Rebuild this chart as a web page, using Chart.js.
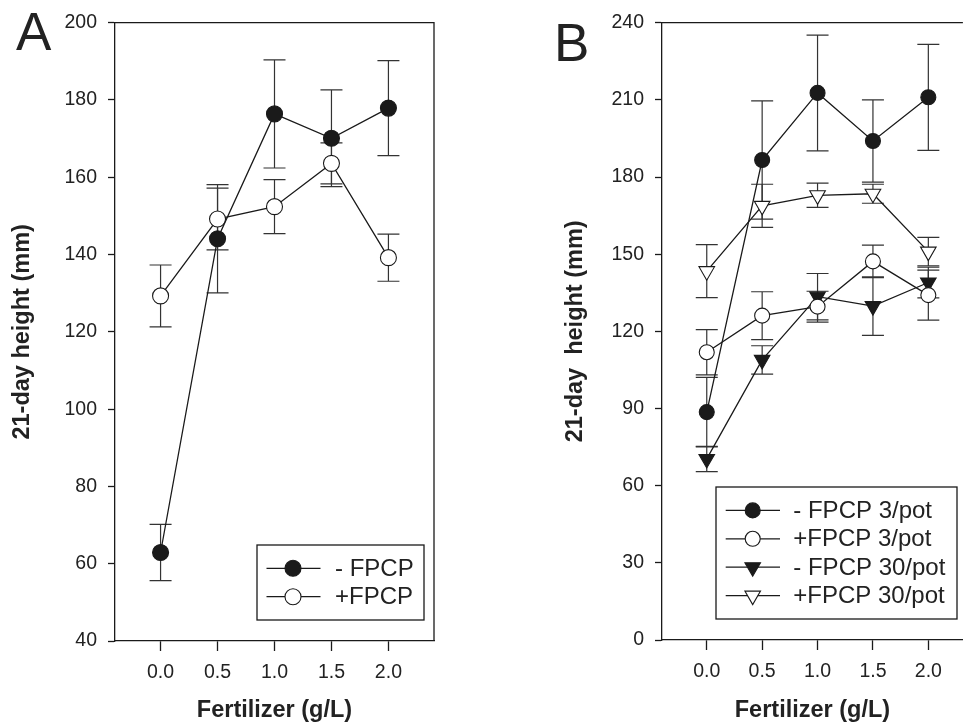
<!DOCTYPE html>
<html><head><meta charset="utf-8">
<script src="https://cdn.jsdelivr.net/npm/chart.js@4.4.0/dist/chart.umd.min.js"></script>
<style>
html,body{margin:0;padding:0;background:#fff;width:973px;height:727px;overflow:hidden;font-family:"Liberation Sans",Arial,sans-serif;}
#ca{position:absolute;left:0;top:0;}
#cb{position:absolute;left:540px;top:0;}
.lbl{position:absolute;font-size:53px;line-height:1;color:#222;font-family:"Liberation Sans",Arial,sans-serif;}
</style></head><body>
<canvas id="ca" width="460" height="727"></canvas>
<canvas id="cb" width="433" height="727"></canvas>
<div class="lbl" style="left:16px;top:5px">A</div>
<div class="lbl" style="left:554px;top:16px">B</div>
<script>
// ---- data ----
const fertilizer = [0.0, 0.5, 1.0, 1.5, 2.0];
const xTickValues = [0.0, 0.5, 1.0, 1.5, 2.0];
const yTicksA = [40, 60, 80, 100, 120, 140, 160, 180, 200];
const yTicksB = [0, 30, 60, 90, 120, 150, 180, 210, 240];

const labelsA = ['- FPCP', '+FPCP'];
const minusFPCP = [62.9, 144.1, 176.4, 170.1, 177.9];
const minusFPCPErr = [7.3, 14.0, 14.0, 12.5, 12.3];
const plusFPCP = [129.3, 149.2, 152.4, 163.6, 139.2];
const plusFPCPErr = [8.0, 8.0, 7.0, 5.3, 6.1];

const labelsB = ['- FPCP 3/pot', '+FPCP 3/pot', '- FPCP 30/pot', '+FPCP 30/pot'];
const minus3 = [88.6, 186.6, 212.7, 194.0, 211.0];
const minus3Err = [13.5, 23.0, 22.5, 16.0, 20.6];
const plus3 = [111.9, 126.1, 129.6, 147.2, 134.1];
const plus3Err = [8.8, 9.3, 6.0, 6.3, 9.7];
const minus30 = [70.4, 108.9, 133.5, 129.8, 139.0];
const minus30Err = [4.9, 5.5, 9.0, 11.4, 6.0];
const plus30 = [143.4, 168.8, 172.9, 173.5, 151.0];
const plus30Err = [10.3, 8.4, 4.7, 3.7, 5.5];

const INK = '#1a1a1a';
const TXT = '#222';
const FONT = '"Liberation Sans", Arial, sans-serif';

function pts(ys) { return fertilizer.map((x, i) => ({ x: x, y: ys[i] })); }

function ds(label, ys, errs, style, filled, radius) {
  return {
    label: label, data: pts(ys), errors: errs,
    borderColor: INK, borderWidth: 1.3, tension: 0, fill: false,
    pointStyle: style, pointRotation: style === 'triangle' ? 180 : 0,
    pointRadius: radius, pointHoverRadius: radius,
    pointBackgroundColor: filled ? INK : '#ffffff',
    pointBorderColor: INK, pointBorderWidth: 1.1,
    backgroundColor: filled ? INK : '#ffffff'
  };
}

const errorBarsPlugin = {
  id: 'errorBars',
  beforeDatasetsDraw(chart) {
    const ctx = chart.ctx, xs = chart.scales.x, ysc = chart.scales.y;
    ctx.save();
    ctx.strokeStyle = '#333';
    ctx.lineWidth = 1.2;
    chart.data.datasets.forEach(d => {
      d.data.forEach((p, i) => {
        const e = d.errors[i];
        const px = xs.getPixelForValue(p.x);
        const top = ysc.getPixelForValue(p.y + e);
        const bot = ysc.getPixelForValue(p.y - e);
        const cw = 11;
        ctx.beginPath();
        ctx.moveTo(px, top); ctx.lineTo(px, bot);
        ctx.moveTo(px - cw, top); ctx.lineTo(px + cw, top);
        ctx.moveTo(px - cw, bot); ctx.lineTo(px + cw, bot);
        ctx.stroke();
      });
    });
    ctx.restore();
  }
};

const framePlugin = {
  id: 'frame',
  afterDraw(chart) {
    const o = chart.options.plugins.frame || {};
    const a = chart.chartArea, ctx = chart.ctx;
    ctx.save();
    ctx.strokeStyle = INK; ctx.lineWidth = 1.3;
    ctx.beginPath();
    ctx.moveTo(a.left, a.top); ctx.lineTo(a.right, a.top);
    if (o.right) { ctx.lineTo(a.right, a.bottom); }
    ctx.stroke();
    ctx.restore();
  }
};

const boxLegendPlugin = {
  id: 'boxLegend',
  afterDraw(chart) {
    const o = chart.options.plugins.boxLegend;
    const ctx = chart.ctx;
    ctx.save();
    ctx.fillStyle = '#fff';
    ctx.fillRect(o.x, o.y, o.w, o.h);
    ctx.strokeStyle = INK; ctx.lineWidth = 1.3;
    ctx.strokeRect(o.x, o.y, o.w, o.h);
    ctx.font = o.fontSize + 'px ' + FONT;
    ctx.textBaseline = 'middle';
    ctx.textAlign = 'left';
    chart.data.datasets.forEach((d, i) => {
      const cy = o.y + o.first + i * o.step;
      ctx.strokeStyle = INK; ctx.lineWidth = 1.3;
      ctx.beginPath();
      ctx.moveTo(o.x + o.lineStart, cy); ctx.lineTo(o.x + o.lineEnd, cy);
      ctx.stroke();
      ctx.fillStyle = d.pointBackgroundColor;
      ctx.strokeStyle = INK; ctx.lineWidth = 1.1;
      Chart.helpers.drawPoint(ctx, {
        pointStyle: d.pointStyle, rotation: d.pointRotation,
        radius: d.pointRadius, borderWidth: 1.1
      }, o.x + o.marker, cy);
      ctx.fillStyle = TXT;
      ctx.fillText(d.label, o.x + o.text, cy + 1);
    });
    ctx.restore();
  }
};

function makeOptions(cfg) {
  return {
    responsive: false, animation: false,
    layout: { padding: cfg.padding },
    plugins: {
      legend: { display: false }, tooltip: { enabled: false },
      frame: { right: cfg.frameRight },
      boxLegend: cfg.legend
    },
    scales: {
      x: {
        type: 'linear', position: 'bottom', min: cfg.xmin, max: cfg.xmax,
        afterBuildTicks: s => { s.ticks = xTickValues.map(v => ({ value: v })); },
        afterFit: s => { s.height = cfg.xHeight; },
        grid: { drawOnChartArea: false, drawTicks: true, tickLength: 10, tickColor: INK, tickWidth: 1.3 },
        border: { display: true, color: INK, width: 1.3 },
        ticks: { color: TXT, padding: 10, font: { family: FONT, size: 19.5 },
                 callback: v => Number(v).toFixed(1) },
        title: { display: true, text: 'Fertilizer (g/L)', color: TXT,
                 font: { family: FONT, size: 23.5, weight: 'bold' },
                 padding: { top: 0, bottom: 2 } }
      },
      y: {
        type: 'linear', position: 'left', min: cfg.ymin, max: cfg.ymax,
        afterBuildTicks: s => { s.ticks = cfg.yTicks.map(v => ({ value: v })); },
        afterFit: s => { s.width = cfg.yWidth; },
        grid: { drawOnChartArea: false, drawTicks: true, tickLength: 7, tickColor: INK, tickWidth: 1.3 },
        border: { display: true, color: INK, width: 1.3 },
        ticks: { color: TXT, padding: 11, font: { family: FONT, size: 19.5 } },
        title: { display: true, text: cfg.yTitle, color: TXT,
                 font: { family: FONT, size: 23.5, weight: 'bold' },
                 padding: { top: cfg.yTitlePad, bottom: 0 } }
      }
    }
  };
}

new Chart(document.getElementById('ca'), {
  type: 'line',
  data: { datasets: [
    ds(labelsA[0], minusFPCP, minusFPCPErr, 'circle', true, 8),
    ds(labelsA[1], plusFPCP, plusFPCPErr, 'circle', false, 8)
  ] },
  options: makeOptions({
    padding: { left: 0, top: 18, right: 26, bottom: 0 },
    xmin: -0.4, xmax: 2.4, ymin: 40, ymax: 200, yTicks: yTicksA,
    xHeight: 86, yWidth: 115, yTitle: '21-day height (mm)', yTitlePad: 8,
    frameRight: true,
    legend: { x: 257, y: 545, w: 167, h: 75, first: 23.3, step: 28.4,
              lineStart: 9.5, lineEnd: 63.5, marker: 36, text: 78, fontSize: 24 }
  }),
  plugins: [errorBarsPlugin, framePlugin, boxLegendPlugin]
});

new Chart(document.getElementById('cb'), {
  type: 'line',
  data: { datasets: [
    ds(labelsB[0], minus3, minus3Err, 'circle', true, 7.5),
    ds(labelsB[1], plus3, plus3Err, 'circle', false, 7.5),
    ds(labelsB[2], minus30, minus30Err, 'triangle', true, 9),
    ds(labelsB[3], plus30, plus30Err, 'triangle', false, 9)
  ] },
  options: makeOptions({
    padding: { left: 0, top: 19, right: 0, bottom: 0 },
    xmin: -0.404, xmax: 2.312, ymin: 0, ymax: 240, yTicks: yTicksB,
    xHeight: 87, yWidth: 122, yTitle: '21-day  height (mm)', yTitlePad: 21,
    frameRight: false,
    legend: { x: 176, y: 487, w: 241, h: 132, first: 23.4, step: 28.4,
              lineStart: 9.7, lineEnd: 64, marker: 36.7, text: 77.3, fontSize: 24 }
  }),
  plugins: [errorBarsPlugin, framePlugin, boxLegendPlugin]
});
</script>
</body></html>
